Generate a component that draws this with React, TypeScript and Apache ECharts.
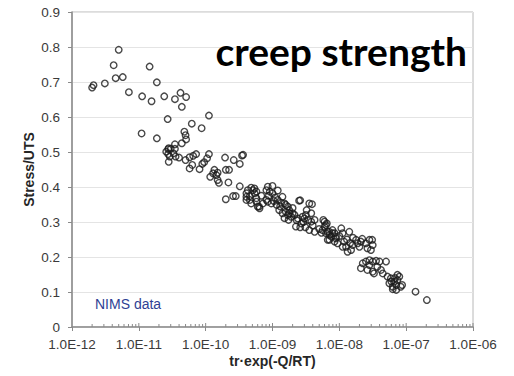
import React, { useEffect, useRef } from "react";
import * as echarts from "echarts";

const titleText = "creep strength";
const noteText = "NIMS data";
const xName = "tr·exp(-Q/RT)";
const yName = "Stress/UTS";

const xMin = 1e-12;
const xMax = 1e-6;
const yMin = 0;
const yMax = 0.9;
const yStep = 0.1;

const xDecades = [-12, -11, -10, -9, -8, -7];
const minorSteps = [2, 3, 4, 5, 6, 7, 8, 9];

const upperPoints: [number, number][] = [
  [5.0e-12, 0.792], [4.2e-12, 0.748], [1.45e-11, 0.744], [2.0e-12, 0.684], [2.1e-12, 0.691],
  [3.1e-12, 0.696], [4.5e-12, 0.711], [5.75e-12, 0.714], [1.86e-11, 0.699], [7.1e-12, 0.671],
  [1.12e-11, 0.659], [1.55e-11, 0.645], [2.4e-11, 0.659], [3.47e-11, 0.651], [4.2e-11, 0.669],
  [5.1e-11, 0.657], [4.4e-11, 0.629], [2.7e-11, 0.594], [6.2e-11, 0.581], [1.1e-11, 0.553],
  [1.86e-11, 0.539], [4.8e-11, 0.558], [5.0e-11, 0.548], [5.1e-11, 0.536], [2.8e-11, 0.511],
  [3.47e-11, 0.522], [4.4e-11, 0.525], [1.12e-10, 0.604], [8.7e-11, 0.568],
];

const midPoints: [number, number][] = [
  [2.75e-11, 0.508], [3.0e-11, 0.509], [3.47e-11, 0.509], [2.57e-11, 0.501], [2.75e-11, 0.494],
  [2.9e-11, 0.487], [2.8e-11, 0.472], [3.3e-11, 0.496], [3.55e-11, 0.487], [4.0e-11, 0.484],
  [5.0e-11, 0.477], [5.75e-11, 0.485], [6.5e-11, 0.489], [7.2e-11, 0.494], [5.75e-11, 0.453],
  [6.3e-11, 0.463], [8.1e-11, 0.451], [8.9e-11, 0.466], [9.5e-11, 0.471], [1.05e-10, 0.482],
  [1.12e-10, 0.494], [1.17e-10, 0.429], [1.29e-10, 0.439], [1.35e-10, 0.449], [1.45e-10, 0.434],
  [1.51e-10, 0.441], [1.51e-10, 0.42], [1.58e-10, 0.412], [2.0e-10, 0.449], [2.24e-10, 0.449],
  [1.95e-10, 0.484], [2.63e-10, 0.477], [3.24e-10, 0.466], [3.63e-10, 0.492], [2.19e-10, 0.413],
  [3.24e-10, 0.402], [2.0e-10, 0.365], [2.57e-10, 0.374], [2.82e-10, 0.374], [4.07e-10, 0.382],
  [4.57e-10, 0.374], [5.37e-10, 0.396], [5.75e-10, 0.387], [4.07e-10, 0.363], [4.8e-10, 0.353],
  [5.75e-10, 0.358], [6.0e-10, 0.344], [8.1e-10, 0.391], [8.5e-10, 0.358], [3.5e-10, 0.49],
];

const bandPoints: [number, number][] = [
  [4.27e-10, 0.391], [4.8e-10, 0.398], [5.1e-10, 0.391], [5.4e-10, 0.382], [4.07e-10, 0.372],
  [4.57e-10, 0.363], [5.75e-10, 0.368], [6.4e-10, 0.339], [6.3e-10, 0.344], [8.5e-10, 0.401],
  [1.0e-9, 0.403], [9.1e-10, 0.387], [1.0e-9, 0.382], [8.1e-10, 0.363], [7.2e-10, 0.353],
  [9.6e-10, 0.353], [1.15e-9, 0.349], [1.2e-9, 0.363], [1.41e-9, 0.372], [1.51e-9, 0.353],
  [1.58e-9, 0.349], [1.7e-9, 0.344], [1.26e-9, 0.334], [1.41e-9, 0.325], [1.58e-9, 0.329],
  [1.78e-9, 0.334], [1.51e-9, 0.311], [1.9e-9, 0.315], [2.14e-9, 0.32], [1.74e-9, 0.306],
  [2.5e-9, 0.361], [2.6e-9, 0.362], [3.55e-9, 0.353], [3.9e-9, 0.351], [3.24e-9, 0.334],
  [3.16e-9, 0.32], [3.4e-9, 0.306], [2.7e-9, 0.296], [2.24e-9, 0.287], [3.1e-9, 0.285],
  [3.8e-9, 0.301], [4.27e-9, 0.306], [3.55e-9, 0.277], [4.27e-9, 0.272], [6.0e-9, 0.301],
  [6.3e-9, 0.291], [5.6e-9, 0.277], [6.7e-9, 0.272], [7.1e-9, 0.263], [7.9e-9, 0.268],
  [8.9e-9, 0.258], [7.1e-9, 0.249], [8.5e-9, 0.244], [9.4e-9, 0.239], [2.0e-9, 0.325],
  [2.82e-9, 0.315], [3.8e-9, 0.325], [1.1e-9, 0.37], [1.3e-9, 0.345], [2.0e-9, 0.34],
  [2.3e-9, 0.305], [2.9e-9, 0.3], [1.7e-9, 0.32], [1.2e-9, 0.39], [6.8e-10, 0.375],
  [1.35e-9, 0.355], [1.8e-9, 0.325], [2.4e-9, 0.31], [3.0e-9, 0.31], [1.05e-9, 0.36],
  [8.8e-10, 0.375], [2.6e-9, 0.285], [4.0e-9, 0.29], [5.0e-9, 0.28],
];

const lowerPoints: [number, number][] = [
  [5.75e-9, 0.306], [6.5e-9, 0.296], [6.0e-9, 0.287], [5.4e-9, 0.269], [6.3e-9, 0.268],
  [7.1e-9, 0.272], [6.7e-9, 0.249], [7.6e-9, 0.258], [7.9e-9, 0.277], [8.5e-9, 0.268],
  [8.9e-9, 0.253], [1.07e-8, 0.282], [1.12e-8, 0.268], [1.18e-8, 0.244], [1.26e-8, 0.229],
  [1.41e-8, 0.272], [1.33e-8, 0.215], [1.5e-8, 0.22], [1.58e-8, 0.234], [1.78e-8, 0.249],
  [1.88e-8, 0.239], [2.0e-8, 0.229], [2.1e-8, 0.244], [2.5e-8, 0.239], [2.82e-8, 0.249],
  [3.1e-8, 0.249], [3.16e-8, 0.234], [2.63e-8, 0.225], [2.97e-8, 0.22], [1.12e-8, 0.229],
  [1.0e-8, 0.26], [1.3e-8, 0.25], [1.6e-8, 0.255], [2.2e-8, 0.252], [1.45e-8, 0.24],
  [2.24e-8, 0.182], [2.5e-8, 0.187], [2.82e-8, 0.191], [3.16e-8, 0.187], [3.55e-8, 0.189],
  [4.0e-8, 0.187], [5.0e-8, 0.187], [2.1e-8, 0.168], [2.63e-8, 0.163], [3.16e-8, 0.158],
  [3.3e-8, 0.153], [3.7e-8, 0.172], [4.2e-8, 0.163], [4.47e-8, 0.153], [2.82e-8, 0.177],
  [5.25e-8, 0.144], [5.9e-8, 0.139], [5.6e-8, 0.125], [6.3e-8, 0.115], [6.6e-8, 0.129],
  [7.1e-8, 0.12], [7.4e-8, 0.134], [7.9e-8, 0.144], [8.3e-8, 0.115], [7.1e-8, 0.106],
  [6.3e-8, 0.108], [7.4e-8, 0.149], [8.7e-8, 0.12], [6.0e-8, 0.13], [6.8e-8, 0.14],
  [1.38e-7, 0.101], [2.04e-7, 0.077],
];

const allPoints = [...upperPoints, ...midPoints, ...bandPoints, ...lowerPoints];

function fmtExp(v: number): string {
  const e = Math.round(Math.log10(v));
  const a = Math.abs(e);
  return "1.0E" + (e < 0 ? "-" : "+") + (a < 10 ? "0" + a : String(a));
}

export default function App() {
  const ref = useRef<HTMLDivElement>(null);
  useEffect(() => {
    if (!ref.current) return;
    const chart = echarts.init(ref.current, undefined, { renderer: "svg" });
    const minorTickData: number[][] = [];
    xDecades.forEach((d) => {
      minorSteps.forEach((k) => minorTickData.push([k * Math.pow(10, d), 0, 3]));
      minorTickData.push([Math.pow(10, d + 1), 0, 4]);
    });
    const labelColor = "#3a3a3a";
    chart.setOption({
      animation: false,
      backgroundColor: "#ffffff",
      grid: {
        left: 72,
        right: 41,
        top: 12,
        bottom: 49,
        show: true,
        borderColor: "#b8b8b8",
        borderWidth: 1,
      },
      xAxis: {
        type: "log",
        logBase: 10,
        min: xMin,
        max: xMax,
        splitNumber: 6,
        name: xName,
        nameLocation: "middle",
        nameGap: 27,
        nameMoveOverlap: false,
        nameTextStyle: { fontFamily: "Liberation Sans", fontWeight: "bold", fontSize: 14, color: "#262626" },
        axisLine: { show: true, lineStyle: { color: "#8a8a8a", width: 1.5 } },
        axisTick: { show: true, length: 4, lineStyle: { color: "#8a8a8a" } },
        splitLine: { show: false },
        minorTick: { show: false },
        axisLabel: {
          formatter: (v: number) => fmtExp(v),
          fontFamily: "Liberation Sans",
          fontSize: 13.5,
          color: labelColor,
          margin: 10,
        },
      },
      yAxis: {
        type: "value",
        min: yMin,
        max: yMax,
        interval: yStep,
        name: yName,
        nameLocation: "middle",
        nameGap: 36,
        nameMoveOverlap: false,
        nameTextStyle: { fontFamily: "Liberation Sans", fontWeight: "bold", fontSize: 14, color: "#262626" },
        axisLine: { show: true, lineStyle: { color: "#8a8a8a", width: 1.5 } },
        axisTick: { show: true, length: 4, lineStyle: { color: "#8a8a8a" } },
        splitLine: { show: true, lineStyle: { color: "#e4e4e4", width: 1 } },
        axisLabel: {
          fontFamily: "Liberation Sans",
          fontSize: 13.5,
          color: labelColor,
          margin: 12,
        },
      },
      graphic: [
        {
          type: "text",
          style: {
            x: 467,
            y: 51,
            text: titleText,
            textAlign: "right",
            textVerticalAlign: "middle",
            font: "bold 39px Lato",
            fill: "#000000",
          },
          z: 100,
        },
        {
          type: "text",
          style: {
            x: 95,
            y: 304,
            text: noteText,
            textAlign: "left",
            textVerticalAlign: "middle",
            font: "14px 'Liberation Sans'",
            fill: "#2f3f94",
          },
          z: 100,
        },
      ],
      series: [
        {
          type: "custom",
          silent: true,
          clip: false,
          data: minorTickData,
          renderItem: (params: any, api: any) => {
            const p = api.coord([api.value(0), 0]);
            const len = api.value(2);
            return {
              type: "line",
              shape: { x1: p[0], y1: p[1], x2: p[0], y2: p[1] - len },
              style: { stroke: "#8a8a8a", lineWidth: 1 },
            };
          },
          z: 1,
        },
        {
          type: "scatter",
          data: allPoints,
          symbol: "circle",
          symbolSize: 6.5,
          itemStyle: { color: "rgba(255,255,255,0)", borderColor: "#1a1a1a", borderWidth: 1.4 },
          z: 5,
        },
      ],
    });
    return () => chart.dispose();
  }, []);
  return (
    <div
      ref={ref}
      style={{ position: "fixed", left: 0, top: 0, width: 514, height: 376 }}
    />
  );
}
